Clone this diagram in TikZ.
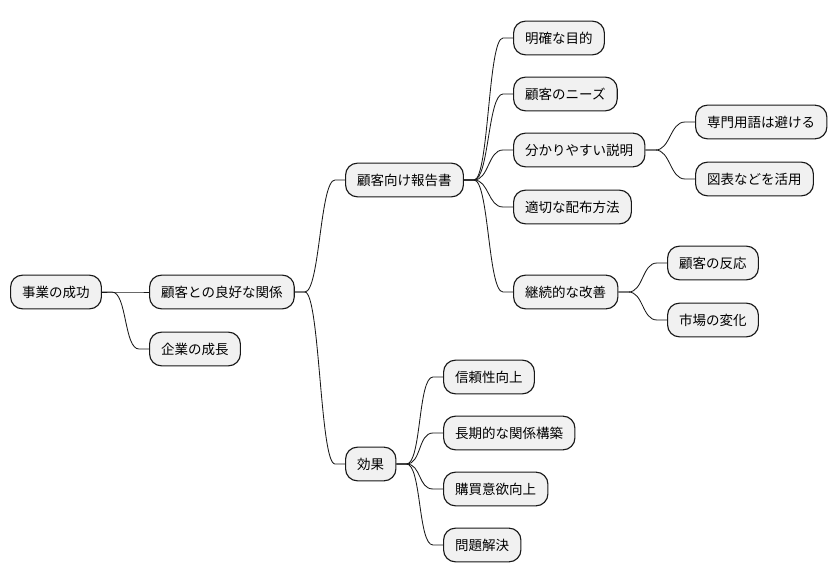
\documentclass[tikz,border=0pt]{standalone}
\usepackage{fontspec}
\newfontfamily\jpfont{Noto Sans CJK JP}
\usetikzlibrary{calc}
\definecolor{topicfill}{HTML}{F1F1F1}
\definecolor{topicline}{HTML}{181818}
\tikzset{
  topicbox/.style={rectangle, rounded corners=8.5pt, draw=topicline, fill=topicfill, line width=0.8pt,
    minimum height=24pt, inner xsep=8.3pt, anchor=west, font=\jpfont\fontsize{9.6}{11}\selectfont},
  branch/.style={draw=topicline, line width=0.6pt}
}

\begin{document}
\begin{tikzpicture}[x=0.025cm, y=-0.025cm]
  \useasboundingbox (0,0) rectangle (838,583);

  % level 0 / 1
  \node[topicbox] (success) at (10,292) {事業の成功};
  \node[topicbox] (relation) at (149,292) {顧客との良好な関係};
  \node[topicbox] (growth) at (149,349) {企業の成長};

  % level 2
  \node[topicbox] (report) at (345,180) {顧客向け報告書};
  \node[topicbox] (effect) at (345,464) {効果};

  % report items
  \node[topicbox] (purpose) at (513,38) {明確な目的};
  \node[topicbox] (needs) at (513,94) {顧客のニーズ};
  \node[topicbox] (clear) at (513,150) {分かりやすい説明};
  \node[topicbox] (deliver) at (513,207) {適切な配布方法};
  \node[topicbox] (improve) at (513,292) {継続的な改善};
  \node[topicbox] (jargon) at (695,122) {専門用語は避ける};
  \node[topicbox] (charts) at (695,179) {図表などを活用};
  \node[topicbox] (reaction) at (667,263) {顧客の反応};
  \node[topicbox] (market) at (667,320) {市場の変化};

  % effect items
  \node[topicbox] (trust) at (443,377) {信頼性向上};
  \node[topicbox] (longterm) at (443,433) {長期的な関係構築};
  \node[topicbox] (buying) at (443,489) {購買意欲向上};
  \node[topicbox] (solve) at (443,545) {問題解決};

  \foreach \a/\b in {success/relation, success/growth, relation/report, relation/effect,
      report/purpose, report/needs, report/clear, report/deliver, report/improve,
      clear/jargon, clear/charts, improve/reaction, improve/market,
      effect/trust, effect/longterm, effect/buying, effect/solve}
    \draw[branch] (\a.east) -- ++(10,0) .. controls +(15,0) and ($(\b.west)+(-25,0)$)
      .. ($(\b.west)+(-10,0)$) -- (\b.west);
\end{tikzpicture}
\end{document}
